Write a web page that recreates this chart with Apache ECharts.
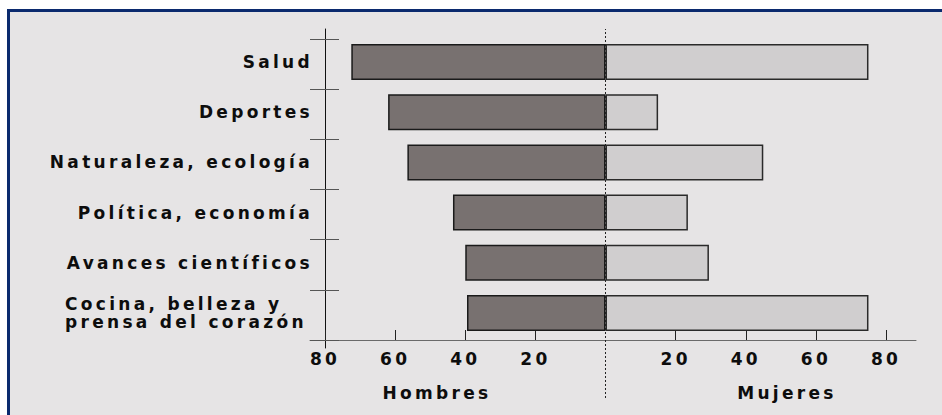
<!DOCTYPE html>
<html>
<head>
<meta charset="utf-8">
<script src="https://cdn.jsdelivr.net/npm/echarts@6/dist/echarts.min.js"></script>
<style>
  html, body { margin: 0; padding: 0; background: #ffffff; width: 942px; height: 415px; overflow: hidden; }
  #frame { position: absolute; left: 7px; top: 9px; width: 1000px; height: 500px;
           border-left: 3px solid #0b2a6e; border-top: 3px solid #0b2a6e; background: #e6e4e5; }
  #chart { position: absolute; left: 0; top: 0; width: 942px; height: 415px; }
  #chart text { letter-spacing: 3.3px; font-weight: bold; }
</style>
</head>
<body>
<div id="frame"></div>
<div id="chart"></div>
<script>
// ---- data ----
var categories = ['Salud', 'Deportes', 'Naturaleza, ecología', 'Política, economía', 'Avances científicos', 'Cocina, belleza y\nprensa del corazón'];
var hombres = [72.5, 62, 56.5, 43.5, 40, 39.5];
var mujeres = [75, 15, 45, 23.5, 29.5, 75];
var tickValues = [20, 40, 60, 80];
var sideNames = ['Hombres', 'Mujeres'];

var FONT = 'DejaVu Sans';
var tickCustom = tickValues.map(function (v) { return -v; }).reverse().concat(tickValues);

var chart = echarts.init(document.getElementById('chart'), null, { renderer: 'svg' });

chart.setOption({
  backgroundColor: 'transparent',
  animation: false,
  title: [
    { text: sideNames[0], left: 432, top: 379, textAlign: 'center',
      textStyle: { fontFamily: FONT, fontWeight: 'bold', fontSize: 17, color: '#0d0d0d' } },
    { text: sideNames[1], left: 782, top: 379, textAlign: 'center',
      textStyle: { fontFamily: FONT, fontWeight: 'bold', fontSize: 17, color: '#0d0d0d' } }
  ],
  grid: [
    { left: 325, right: 56, top: 37, bottom: 77 },   // data
    { left: 325, right: 26, top: 29, bottom: 67 },   // vertical axis line
    { left: 310, right: 26, top: 39, bottom: 75 },   // horizontal axis line + band ticks
    { left: 325, right: 56, top: 29, bottom: 17 }    // center dotted line
  ],
  xAxis: [
    { gridIndex: 0, type: 'value', min: -80, max: 80, offset: 2,
      axisLine: { show: false },
      axisTick: { show: true, inside: true, length: 10, customValues: tickCustom,
                  lineStyle: { color: '#222', width: 1 } },
      axisLabel: { customValues: tickCustom, margin: 10,
                   formatter: function (v) { return String(Math.abs(v)); },
                   fontFamily: FONT, fontWeight: 'bold', fontSize: 17, color: '#0d0d0d' },
      splitLine: { show: false } },
    { gridIndex: 1, type: 'value', min: 0, max: 1, show: false },
    { gridIndex: 2, type: 'value', min: 0, max: 1,
      axisLine: { show: true, onZero: false, lineStyle: { color: '#6a6a6a', width: 1 } },
      axisTick: { show: false }, axisLabel: { show: false }, splitLine: { show: false } },
    { gridIndex: 3, type: 'value', min: -80, max: 80, show: false }
  ],
  yAxis: [
    { gridIndex: 0, type: 'category', inverse: true, data: categories,
      axisLine: { show: false }, axisTick: { show: false },
      axisLabel: {
        align: 'right', margin: 12, fontFamily: FONT, fontWeight: 'bold', fontSize: 17,
        color: '#0d0d0d', lineHeight: 18,
        formatter: function (v) {
          if (v.indexOf('\n') >= 0) {
            return v.split('\n').map(function (s) { return '{l|' + s + '}'; }).join('\n');
          }
          return v;
        },
        rich: { l: { width: 248, align: 'left', fontFamily: FONT, fontWeight: 'bold',
                     fontSize: 17, color: '#0d0d0d', lineHeight: 18 } }
      } },
    { gridIndex: 1, type: 'value', min: 0, max: 1,
      axisLine: { show: true, onZero: false, lineStyle: { color: '#111', width: 1 } },
      axisTick: { show: false }, axisLabel: { show: false }, splitLine: { show: false } },
    { gridIndex: 2, type: 'category', inverse: true, data: categories,
      axisLine: { show: false },
      axisTick: { show: true, inside: true, length: 29, lineStyle: { color: '#555', width: 1 } },
      axisLabel: { show: false } },
    { gridIndex: 3, type: 'value', min: 0, max: 1, show: false }
  ],
  series: [
    { name: sideNames[0], type: 'bar', xAxisIndex: 0, yAxisIndex: 0,
      data: hombres.map(function (v) { return -v; }),
      barWidth: 36, barGap: '-100%',
      itemStyle: { color: '#787170', borderColor: '#1a1a1a', borderWidth: 1.5 } },
    { name: sideNames[1], type: 'bar', xAxisIndex: 0, yAxisIndex: 0,
      data: mujeres,
      barWidth: 36, barGap: '-100%',
      itemStyle: { color: '#d0cecf', borderColor: '#2a2a2a', borderWidth: 1.5 } },
    { type: 'line', xAxisIndex: 3, yAxisIndex: 3, data: [[0, 0]], symbol: 'none', silent: true,
      lineStyle: { opacity: 0 },
      markLine: { silent: true, symbol: ['none', 'none'], label: { show: false },
                  lineStyle: { type: [2, 2], color: '#222', width: 1 },
                  data: [{ xAxis: 0 }] } }
  ]
});
</script>
</body>
</html>
